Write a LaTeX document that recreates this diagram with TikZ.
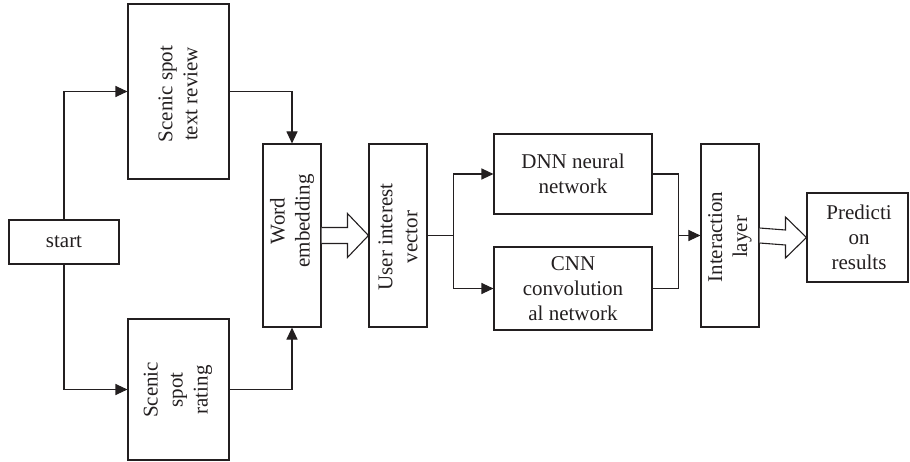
\documentclass[tikz,border=0pt]{standalone}
\usepackage{fontspec}
\setmainfont{Liberation Serif}
\usetikzlibrary{arrows.meta,calc}
\definecolor{ink}{HTML}{231F20}
\tikzset{
  box/.style={draw=ink, line width=1.1pt, inner sep=0pt, minimum width=#1},
  txt/.style={align=center, text=ink, inner sep=0pt, font=\fontsize{21}{25}\selectfont},
  rtxt/.style={txt, rotate=90},
  flow/.style={draw=ink, line width=1.1pt, -{Triangle[length=12pt,width=11pt]}},
  wire/.style={draw=ink, line width=1.1pt},
  hollow/.style={draw=ink, line width=1.1pt, fill=white, line join=miter}
}
\begin{document}
\begin{tikzpicture}[x=1pt, y=-1pt]
  \useasboundingbox (0,0) rectangle (910,462);

  % boxes
  \node[box=110, minimum height=44]  (start)  at (64,242)     {};
  \node[box=101, minimum height=175] (review) at (178.5,91.5) {};
  \node[box=101, minimum height=141] (rating) at (178.5,389.5) {};
  \node[box=58,  minimum height=183] (we)     at (292,235.5)  {};
  \node[box=58,  minimum height=183] (uiv)    at (398,235.5)  {};
  \node[box=158, minimum height=80]  (dnn)    at (573,174)    {};
  \node[box=158, minimum height=83]  (cnn)    at (573,288.5)  {};
  \node[box=58,  minimum height=183] (il)     at (730,235.5)  {};
  \node[box=101, minimum height=89]  (pred)   at (857.5,237.5) {};

  % labels
  \node[txt]  (tstart)  at (start.center)  {start};
  \node[rtxt] (treview) at (178,94)        {Scenic spot\\text review};
  \node[rtxt] (trating) at (178,390)       {Scenic\\spot\\rating};
  \node[rtxt] (twe)     at (292,221)       {Word\\embedding};
  \node[rtxt] (tuiv)    at (398,237)       {User interest\\vector};
  \node[txt]  (tdnn)    at (573,174)       {DNN neural\\network};
  \node[txt]  (tcnn)    at (573,289)       {CNN\\convolution\\al network};
  \node[rtxt] (til)     at (730,237)       {Interaction\\layer};
  \node[txt]  (tpred)   at (859,237.5)     {Predicti\\on\\results};

  % branching points
  \coordinate (j1) at ($(uiv.east)+(26,0)$);
  \coordinate (j2) at ($(dnn.east)+(26,0)$);
  \coordinate (j3) at ($(cnn.east)+(26,0)$);
  \coordinate (j4) at (j2 |- il.west);

  % connectors
  \draw[flow] (start.north) |- (review.west);
  \draw[flow] (start.south) |- (rating.west);
  \draw[flow] (review.east) -| (we.north);
  \draw[flow] (rating.east) -| (we.south);
  \draw[wire] (uiv.east) -- (j1);
  \draw[flow] (j1) |- (dnn.west);
  \draw[flow] (j1) |- (cnn.west);
  \draw[wire] (dnn.east) -- (j2) -- (j3) -- (cnn.east);
  \draw[flow] (j4) -- (il.west);

  % hollow block arrows
  \draw[hollow] ($(we.east)+(0,-8)$) -- ($(uiv.west)+(-21,-8)$)
    -- ($(uiv.west)+(-21,-22)$) -- (uiv.west) -- ($(uiv.west)+(-21,22)$)
    -- ($(uiv.west)+(-21,8)$) -- ($(we.east)+(0,8)$);
  \draw[hollow] ($(il.east)+(0,-7.5)$) -- ($(pred.west)+(-21,-7.5)$)
    -- ($(pred.west)+(-21,-20.5)$) -- (pred.west) -- ($(pred.west)+(-21,20.5)$)
    -- ($(pred.west)+(-21,7.5)$) -- ($(il.east)+(0,7.5)$);
\end{tikzpicture}
\end{document}
